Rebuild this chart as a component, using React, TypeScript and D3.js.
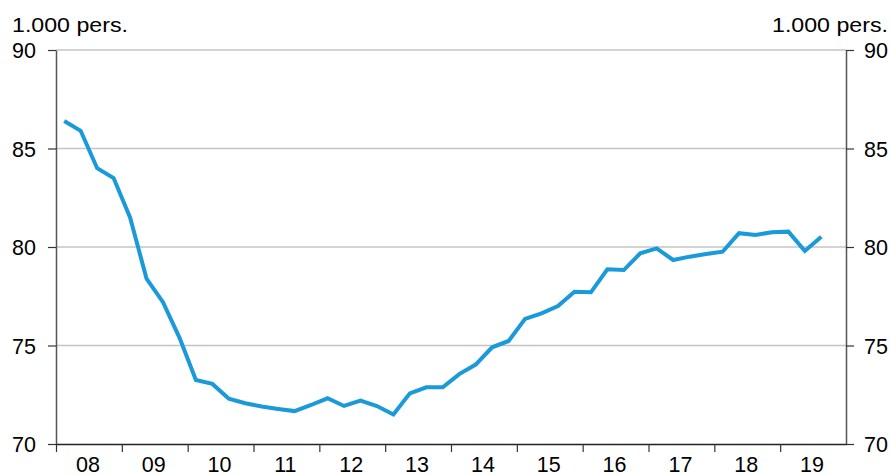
import React, { useEffect, useRef } from 'react'
import * as d3 from 'd3'

const years = ['08', '09', '10', '11', '12', '13', '14', '15', '16', '17', '18', '19']
const yTicks = [70, 75, 80, 85, 90]
const unitLabel = '1.000 pers.'

// quarterly values, 2008 Q1 - 2019 Q3
const values = [
  86.4, 85.9, 84.0, 83.5,
  81.5, 78.4, 77.2, 75.4,
  73.25, 73.05, 72.3, 72.07,
  71.9, 71.78, 71.67, 71.98,
  72.32, 71.93, 72.2, 71.93,
  71.5, 72.57, 72.88, 72.88,
  73.55, 74.03, 74.91, 75.23,
  76.35, 76.63, 77.0, 77.73,
  77.7, 78.87, 78.83, 79.68,
  79.93, 79.34, 79.51, 79.64,
  79.76, 80.7, 80.61, 80.75,
  80.78, 79.8, 80.52
]

const App = () => {
  const svgRef = useRef(null)

  useEffect(() => {
    const svg = d3.select(svgRef.current)
    svg.selectAll('*').remove()

    const left = 56
    const right = 846
    const top = 50
    const bottom = 444
    const font = 'Liberation Sans, Arial, sans-serif'

    const x = d3.scaleLinear().domain([0, years.length]).range([left, right])
    const y = d3.scaleLinear().domain([70, 90]).range([bottom, top])

    // gridlines
    svg
      .append('g')
      .selectAll('line')
      .data(yTicks.filter(t => t > 70))
      .enter()
      .append('line')
      .attr('x1', left)
      .attr('x2', right)
      .attr('y1', d => y(d))
      .attr('y2', d => y(d))
      .attr('stroke', '#c4c4c4')
      .attr('stroke-width', 1.5)

    const leftAxis = d3.axisLeft(y).tickValues(yTicks).tickSize(8).tickSizeOuter(0).tickPadding(12)
    const gl = svg.append('g').attr('transform', `translate(${left},0)`).call(leftAxis)
    gl.select('.domain').attr('stroke', '#555').attr('stroke-width', 1.5)
    gl.selectAll('.tick line').attr('stroke', '#333').attr('stroke-width', 1.2)
    gl.selectAll('text').attr('font-family', font).attr('font-size', 21.5).attr('fill', '#000').attr('dy', '0.36em')

    const rightAxis = d3.axisRight(y).tickValues(yTicks).tickSize(8).tickSizeOuter(0).tickPadding(10)
    const gr = svg.append('g').attr('transform', `translate(${right},0)`).call(rightAxis)
    gr.select('.domain').attr('stroke', '#555').attr('stroke-width', 1.5)
    gr.selectAll('.tick line').attr('stroke', '#333').attr('stroke-width', 1.2)
    gr.selectAll('text').attr('font-family', font).attr('font-size', 21.5).attr('fill', '#000').attr('dy', '0.36em')

    // x axis: ticks at year boundaries, labels centered in each year
    const bottomAxis = d3
      .axisBottom(x)
      .tickValues(d3.range(0, years.length))
      .tickSize(8)
      .tickSizeOuter(0)
      .tickFormat(() => '')
    const gb = svg.append('g').attr('transform', `translate(0,${bottom})`).call(bottomAxis)
    gb.select('.domain').attr('stroke', '#222').attr('stroke-width', 1.5)
    gb.selectAll('.tick line').attr('stroke', '#333').attr('stroke-width', 1.2)

    svg
      .append('g')
      .selectAll('text')
      .data(years)
      .enter()
      .append('text')
      .attr('x', (d, i) => x(i + 0.5) - 1)
      .attr('y', 472)
      .attr('text-anchor', 'middle')
      .attr('font-family', font)
      .attr('font-size', 21.5)
      .text(d => d)

    // unit labels
    svg
      .append('text')
      .attr('x', 12)
      .attr('y', 31.5)
      .attr('font-family', font)
      .attr('font-size', 21)
      .attr('textLength', 116)
      .attr('lengthAdjust', 'spacingAndGlyphs')
      .text(unitLabel)
    svg
      .append('text')
      .attr('x', 888 - 116)
      .attr('y', 31.5)
      .attr('font-family', font)
      .attr('font-size', 21)
      .attr('textLength', 116)
      .attr('lengthAdjust', 'spacingAndGlyphs')
      .text(unitLabel)

    const line = d3
      .line()
      .x((d, i) => x((i + 0.5) / 4))
      .y(d => y(d))

    svg
      .append('path')
      .datum(values)
      .attr('d', line)
      .attr('fill', 'none')
      .attr('stroke', '#1a9ad8')
      .attr('stroke-width', 4)
      .attr('stroke-linejoin', 'miter')
  }, [])

  return (
    <svg
      ref={svgRef}
      width='891'
      height='475'
      style={{ position: 'absolute', left: 0, top: 0, background: '#fff' }}
    ></svg>
  )
}

export default App
